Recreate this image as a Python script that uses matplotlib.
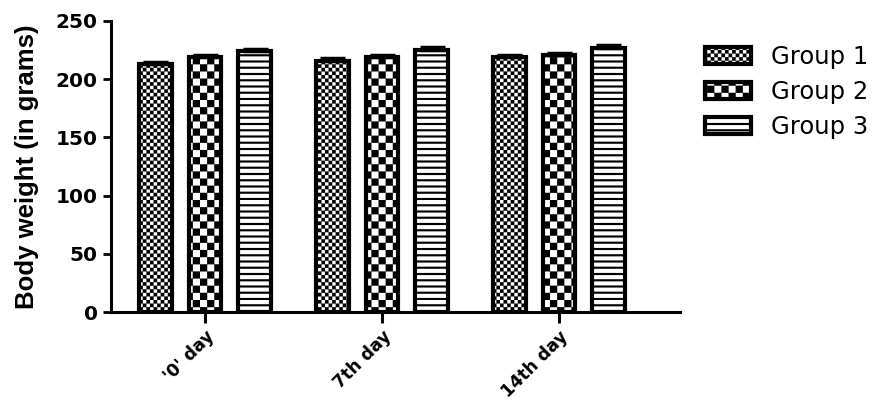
import numpy as np
import matplotlib
matplotlib.use("Agg")
import matplotlib.pyplot as plt
import matplotlib.hatch as mhatch
import matplotlib.transforms as mtransforms
from matplotlib.path import Path

# ---------------- data ----------------
days = ["'0' day", "7th day", "14th day"]
groups = ["Group 1", "Group 2", "Group 3"]
group1 = [213, 216, 219]
group2 = [219, 219, 220.5]
group3 = [224, 225.5, 227]
err1 = [2, 2, 2]
err2 = [2, 2, 2]
err3 = [2, 2, 2]
yticks = [0, 50, 100, 150, 200, 250]


# ---------------- custom hatch patterns (checkerboards / stripes) ----------------
class _Checker(mhatch.HatchPatternBase):
    symbol = "c"
    periods = 14

    def __init__(self, hatch, density):
        self.n = self.periods if self.symbol in hatch else 0
        self.num_vertices = 2 * self.n * self.n * 5

    def set_vertices_and_codes(self, vertices, codes):
        n = self.n
        s = 1.0 / (2 * n)
        k = 0
        for i in range(2 * n):
            for j in range(2 * n):
                if (i + j) % 2 == 0:
                    x0, y0 = i * s, j * s
                    vertices[k:k + 5] = [(x0, y0), (x0 + s, y0), (x0 + s, y0 + s),
                                         (x0, y0 + s), (x0, y0)]
                    codes[k:k + 5] = [Path.MOVETO, Path.LINETO, Path.LINETO,
                                      Path.LINETO, Path.CLOSEPOLY]
                    k += 5


class _FineChecker(_Checker):
    symbol = "c"
    periods = 14


class _CoarseChecker(_Checker):
    symbol = "k"
    periods = 7


class _Stripes(mhatch.HatchPatternBase):
    symbol = "s"
    count = 16
    frac = 0.32

    def __init__(self, hatch, density):
        self.n = self.count if self.symbol in hatch else 0
        self.num_vertices = self.n * 5

    def set_vertices_and_codes(self, vertices, codes):
        n = self.n
        p = 1.0 / n
        t = p * self.frac
        for i in range(n):
            y0 = i * p
            k = i * 5
            vertices[k:k + 5] = [(0, y0), (1, y0), (1, y0 + t), (0, y0 + t), (0, y0)]
            codes[k:k + 5] = [Path.MOVETO, Path.LINETO, Path.LINETO,
                              Path.LINETO, Path.CLOSEPOLY]


mhatch._hatch_types.extend([_FineChecker, _CoarseChecker, _Stripes])
mhatch._validate_hatch_pattern = lambda hatch: None

plt.rcParams["hatch.linewidth"] = 0.1
plt.rcParams["font.family"] = ["DejaVu Sans"]

# ---------------- figure ----------------
W, H = 888, 401
fig = plt.figure(figsize=(W / 100, H / 100), dpi=100)
ax = fig.add_axes([111 / W, 1 - 312 / H, (680 - 111) / W, (312 - 21) / H])

x = np.arange(len(days))
offsets = [-0.28, 0.0, 0.28]
width = 0.185
series = [group1, group2, group3]
errs = [err1, err2, err3]
hatches = ["c", "k", "s"]

bars = []
for vals, e, off, h, lab in zip(series, errs, offsets, hatches, groups):
    b = ax.bar(x + off, vals, width, color="white", edgecolor="black",
               linewidth=3, hatch=h, label=lab, zorder=2)
    bars.append(b)
    ax.errorbar(x + off, vals, yerr=[np.zeros(len(vals)), e], fmt="none",
                ecolor="black", elinewidth=2.5, capsize=9, capthick=2.5, zorder=3)

ax.set_ylim(0, 250)
ax.set_xlim(-0.531, 2.684)
ax.set_yticks(yticks)
ax.set_xticks(x)
ax.set_xticklabels(days, rotation=45, ha="right", va="top",
                   rotation_mode="anchor", fontsize=12.5, fontweight="bold")
shift = mtransforms.ScaledTranslation(9 / 100, 0, fig.dpi_scale_trans)
for t in ax.get_xticklabels():
    t.set_transform(t.get_transform() + shift)
for t in ax.get_yticklabels():
    t.set_fontsize(14.5)
    t.set_fontweight("bold")

for s in ["top", "right"]:
    ax.spines[s].set_visible(False)
for s in ["left", "bottom"]:
    ax.spines[s].set_linewidth(2.2)
ax.tick_params(axis="y", direction="out", length=5.5, width=2, pad=4)
ax.tick_params(axis="x", direction="out", length=8, width=2.2, pad=3)

ax.set_ylabel("Body weight (in grams)", fontsize=18.5, fontweight="bold",
              family=["Liberation Sans"], labelpad=12)

leg = fig.legend(handles=bars, labels=groups, loc="upper left",
                 bbox_to_anchor=(705 / W, 1 - 45 / H), frameon=False,
                 fontsize=17.5, handlelength=1.9, handleheight=0.7,
                 handletextpad=0.8, labelspacing=0.45, borderpad=0,
                 borderaxespad=0)

fig.savefig("out.png", dpi=100)
